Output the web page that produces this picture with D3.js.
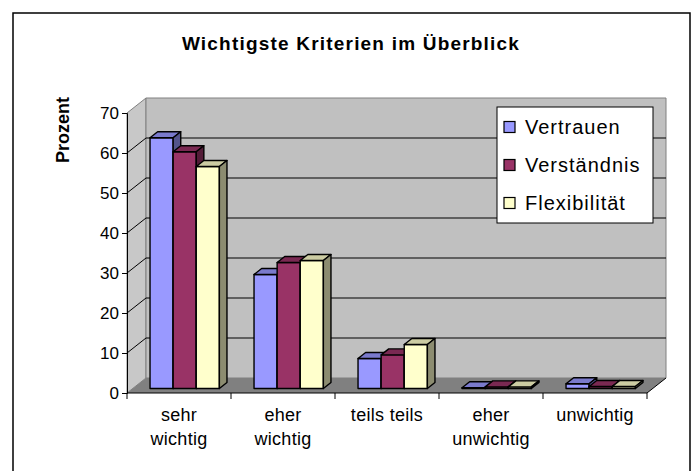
<!DOCTYPE html>
<html>
<head>
<meta charset="utf-8">
<style>
  body { margin: 0; background: #fff; }
  text { font-family: "Liberation Sans", Arial, sans-serif; }
</style>
</head>
<body>
<script src="https://cdnjs.cloudflare.com/ajax/libs/d3/7.8.5/d3.min.js"></script>
<script>

// data
var categories = [["sehr", "wichtig"], ["eher", "wichtig"], ["teils teils"], ["eher", "unwichtig"], ["unwichtig"]];
var seriesNames = ["Vertrauen", "Verständnis", "Flexibilität"];
var vertrauen   = [62.7, 28.5, 7.5, 0.2, 1.2];
var verstaendnis = [59.2, 31.5, 8.4, 0.4, 0.5];
var flexibilitaet = [55.5, 32.0, 11.0, 0.4, 0.5];
var yTicks = [0, 10, 20, 30, 40, 50, 60, 70];
var colors = ["#9999ff", "#993366", "#ffffcc"];

var series = [vertrauen, verstaendnis, flexibilitaet];

var svg = d3.select("body").append("svg")
    .attr("width", 692)
    .attr("height", 471);

// outer chart frame
svg.append("rect")
    .attr("x", 13).attr("y", 13)
    .attr("width", 677).attr("height", 480)
    .attr("fill", "#fff").attr("stroke", "#000").attr("stroke-width", 1.5);

svg.append("text")
    .attr("x", 351).attr("y", 50)
    .attr("text-anchor", "middle")
    .style("font-size", "19px").style("font-weight", "bold")
    .style("letter-spacing", "1.2px")
    .text("Wichtigste Kriterien im Überblick");

// 3d depth of the walls (oblique projection)
var DX = 19, DY = -15;

var x = d3.scaleBand()
    .domain(d3.range(categories.length))
    .range([127, 647]);

var y = d3.scaleLinear()
    .domain([0, 70])
    .range([393, 113]);

function pt(px, py, f) { return [px + f * DX, py + f * DY]; }
function poly(pts) { return pts.map(function(p) { return p.join(","); }).join(" "); }

var X0 = x.range()[0], X1 = x.range()[1];

// left side wall
svg.append("polygon")
    .attr("points", poly([[X0, y(0)], [X0, y(70)], pt(X0, y(70), 1), pt(X0, y(0), 1)]))
    .attr("fill", "#c8c8c8").attr("stroke", "#808080");

// back wall
svg.append("polygon")
    .attr("points", poly([pt(X0, y(0), 1), pt(X0, y(70), 1), pt(X1, y(70), 1), pt(X1, y(0), 1)]))
    .attr("fill", "#c0c0c0").attr("stroke", "#808080");

// floor
svg.append("polygon")
    .attr("points", poly([[X0, y(0)], [X1, y(0)], pt(X1, y(0), 1), pt(X0, y(0), 1)]))
    .attr("fill", "#808080").attr("stroke", "none");
svg.append("line")
    .attr("x1", X1).attr("y1", y(0))
    .attr("x2", X1 + DX).attr("y2", y(0) + DY)
    .attr("stroke", "#000");

// gridlines
var grid = svg.append("g").attr("stroke", "#000").attr("stroke-width", 1);
yTicks.filter(function(t) { return t > 0 && t < 70; }).forEach(function(t) {
    var b = pt(X0, y(t), 1);
    grid.append("line").attr("x1", X0).attr("y1", y(t)).attr("x2", b[0]).attr("y2", b[1]);
    grid.append("line").attr("x1", b[0]).attr("y1", b[1]).attr("x2", X1 + DX).attr("y2", b[1]);
});

// y axis
var yAxis = svg.append("g")
    .attr("transform", "translate(" + X0 + ",0)")
    .call(d3.axisLeft(y).tickValues(yTicks).tickSize(5).tickPadding(3));
yAxis.select(".domain").attr("stroke", "#000");
yAxis.selectAll("text").style("font-size", "17px").style("font-family", "Liberation Sans, Arial, sans-serif").attr("fill", "#000");

svg.append("text")
    .attr("transform", "translate(69,130) rotate(-90)")
    .attr("text-anchor", "middle")
    .style("font-size", "18px").style("font-weight", "bold")
    .text("Prozent");

// x axis line and category boundary ticks
svg.append("line")
    .attr("x1", X0).attr("y1", y(0)).attr("x2", X1).attr("y2", y(0))
    .attr("stroke", "#000");
d3.range(categories.length + 1).forEach(function(i) {
    var tx = X0 + i * x.step();
    svg.append("line")
        .attr("x1", tx).attr("y1", y(0)).attr("x2", tx).attr("y2", y(0) + 6)
        .attr("stroke", "#000");
});

var catLabels = svg.append("g");
categories.forEach(function(lines, i) {
    var cx = x(i) + x.bandwidth() / 2;
    var t = catLabels.append("text")
        .attr("x", cx)
        .attr("y", 421)
        .attr("text-anchor", "middle")
        .style("font-size", "18px")
        .style("letter-spacing", "0.3px");
    lines.forEach(function(l, k) {
        t.append("tspan").attr("x", cx).attr("dy", k ? 24 : 0).text(l);
    });
});

// bars: gap width 150%, bars sit from 0.3 to 0.7 of the floor depth
var bw = x.bandwidth() / 4.5;
var f0 = 0.3, f1 = 0.7;

function shade(c, k) {
    var r = d3.rgb(c);
    return d3.rgb(r.r * k, r.g * k, r.b * k).toString();
}

var bars = svg.append("g")
    .attr("stroke", "#000").attr("stroke-width", 1.4).attr("stroke-linejoin", "round");

categories.forEach(function(c, i) {
    series.forEach(function(vals, s) {
        var left = x(i) + 0.75 * bw + s * bw, right = left + bw;
        var top = y(vals[i]), bot = y(0);
        var g = bars.append("g");
        // front face
        g.append("polygon")
            .attr("points", poly([pt(left, top, f0), pt(right, top, f0), pt(right, bot, f0), pt(left, bot, f0)]))
            .attr("fill", colors[s]);
        // top face
        g.append("polygon")
            .attr("points", poly([pt(left, top, f0), pt(right, top, f0), pt(right, top, f1), pt(left, top, f1)]))
            .attr("fill", shade(colors[s], 0.8));
        // side face
        g.append("polygon")
            .attr("points", poly([pt(right, top, f0), pt(right, top, f1), pt(right, bot, f1), pt(right, bot, f0)]))
            .attr("fill", shade(colors[s], 0.55));
    });
});

// legend
var legend = svg.append("g");
legend.append("rect")
    .attr("x", 497).attr("y", 107).attr("width", 156).attr("height", 116)
    .attr("fill", "#fff").attr("stroke", "#000");
seriesNames.forEach(function(name, s) {
    var cy = 127 + s * 38;
    legend.append("rect")
        .attr("x", 504).attr("y", cy - 5.5).attr("width", 11).attr("height", 11)
        .attr("fill", colors[s]).attr("stroke", "#000").attr("stroke-width", 1.2);
    legend.append("text")
        .attr("x", 525).attr("y", cy + 7)
        .style("font-size", "20px")
        .style("letter-spacing", "1px")
        .text(name);
});

</script>
</body>
</html>
